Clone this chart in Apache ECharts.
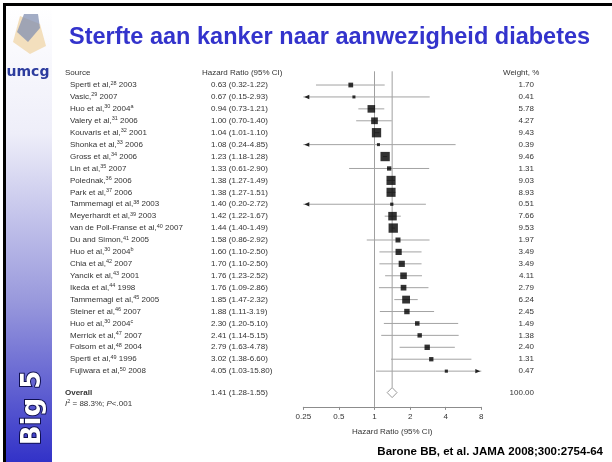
<!DOCTYPE html>
<html><head><meta charset="utf-8">
<script src="https://cdn.jsdelivr.net/npm/echarts@6/dist/echarts.min.js"></script>
<style>html,body{margin:0;padding:0;background:#fff}#c{width:612px;height:462px}</style>
</head><body><div id="c"></div>
<script>
// ---- data ----
const studyNames = ['Sperti et al','Vasic','Huo et al','Valery et al','Kouvaris et al','Shonka et al','Gross et al','Lin et al','Polednak','Park et al','Tammemagi et al','Meyerhardt et al','van de Poll-Franse et al','Du and Simon','Huo et al','Chia et al','Yancik et al','Ikeda et al','Tammemagi et al','Steiner et al','Huo et al','Merrick et al','Folsom et al','Sperti et al','Fujiwara et al'];
const studyRefs = ['28','29','30','31','32','33','34','35','36','37','38','39','40','41','30','42','43','44','45','46','30','47','48','49','50'];
const studyYears = ['2003','2007','2004','2006','2001','2006','2006','2007','2006','2006','2003','2003','2007','2005','2004','2007','2001','1998','2005','2007','2004','2007','2004','1996','2008'];
const studyNotes = ['','','a','','','','','','','','','','','','b','','','','','','c','','','',''];
const hazardRatio = [0.63,0.67,0.94,1.00,1.04,1.08,1.23,1.33,1.38,1.38,1.40,1.42,1.44,1.58,1.60,1.70,1.76,1.76,1.85,1.88,2.30,2.41,2.79,3.02,4.05];
const ciLow  = [0.32,0.15,0.73,0.70,1.01,0.24,1.18,0.61,1.27,1.27,0.20,1.22,1.40,0.86,1.10,1.10,1.23,1.09,1.47,1.11,1.20,1.14,1.63,1.38,1.03];
const ciHigh = [1.22,2.93,1.21,1.40,1.10,4.85,1.28,2.90,1.49,1.51,2.72,1.67,1.49,2.92,2.50,2.50,2.52,2.86,2.32,3.19,5.10,5.15,4.78,6.60,15.80];
const weights = [1.70,0.41,5.78,4.27,9.43,0.39,9.46,1.31,9.03,8.93,0.51,7.66,9.53,1.97,3.49,3.49,4.11,2.79,6.24,2.45,1.49,1.38,2.40,1.31,0.47];
const overallHR = 1.41, overallLow = 1.28, overallHigh = 1.55, overallWeight = 100.00;
const heterogeneityI2 = '88.3%', heterogeneityP = '<.001';
const xTickValues = [0.25, 0.5, 1, 2, 4, 8];
const nullValue = 1;

// ---- layout helpers ----
const xMin = xTickValues[0], xMax = xTickValues[xTickValues.length - 1];
const HEADER_ROW = -1, OVERALL_ROW = 25.8, HET_ROW = 26.75, AXIS_ROW = 27;
const FONT = '"Liberation Sans", Arial, Helvetica, sans-serif';
const TXT = '#333';
const f2 = v => v.toFixed(2);

const chart = echarts.init(document.getElementById('c'), null, {renderer: 'canvas'});

function textEl(x, y, text, opt) {
  opt = opt || {};
  return {
    type: 'text', x: x, y: y, silent: true,
    style: Object.assign({
      text: text, fill: TXT, fontSize: 8, fontFamily: FONT,
      align: opt.align || 'left', verticalAlign: 'middle',
      rich: {
        sup: {fontSize: 5.5, fontFamily: FONT, fill: TXT, verticalAlign: 'top', lineHeight: 10},
        it: {fontSize: 8, fontStyle: 'italic', fontFamily: FONT, fill: TXT, lineHeight: 10},
        b: {fontSize: 8, fontWeight: 'bold', fontFamily: FONT, fill: TXT, lineHeight: 10}
      }
    }, opt.style || {})
  };
}

const rowsData = hazardRatio.map((v, i) => [1, i]);

const option = {
  animation: false,
  backgroundColor: '#fff',
  title: {
    text: 'Sterfte aan kanker naar aanwezigheid diabetes',
    left: 64, top: 21,
    textStyle: {fontSize: 23.5, fontWeight: 'bold', color: '#3333cc', fontFamily: FONT}
  },
  grid: {left: 303.3, right: 130.7, top: 73.1, bottom: 55.1, containLabel: false},
  xAxis: {
    type: 'log', logBase: 2, min: xMin, max: xMax,
    axisLine: {show: true, onZero: false, lineStyle: {color: '#8c8c8c', width: 1}},
    axisTick: {show: true, inside: false, length: 3, lineStyle: {color: '#8c8c8c'}},
    axisLabel: {color: TXT, fontSize: 8, fontFamily: FONT, margin: 6,
      formatter: v => String(+(+v).toPrecision(3))},
    splitLine: {show: false},
    name: 'Hazard Ratio (95% CI)', nameLocation: 'middle', nameGap: 21,
    nameTextStyle: {color: TXT, fontSize: 8, fontFamily: FONT}
  },
  yAxis: {type: 'value', inverse: true, min: HEADER_ROW, max: AXIS_ROW, show: false},
  series: [
    { // reference lines
      type: 'custom', clip: false, z: 1,
      data: [[nullValue, -1.15, AXIS_ROW], [overallHR, -1.15, OVERALL_ROW]],
      encode: {x: 0, y: [1, 2]},
      renderItem(params, api) {
        const p1 = api.coord([api.value(0), api.value(1)]);
        let p2 = api.coord([api.value(0), api.value(2)]);
        const y2 = params.dataIndex === 1 ? p2[1] - 5 : p2[1];
        return {type: 'line', shape: {x1: p1[0], y1: p1[1], x2: p1[0], y2: y2},
          style: {stroke: '#a0a0a0', lineWidth: 1}};
      }
    },
    { // CI lines
      type: 'custom', clip: false, z: 2,
      data: hazardRatio.map((v, i) => [ciLow[i], i, ciHigh[i]]),
      encode: {x: [0, 2], y: 1},
      renderItem(params, api) {
        const l = api.value(0), i = api.value(1), h = api.value(2);
        const p1 = api.coord([Math.max(l, xMin), i]);
        const p2 = api.coord([Math.min(h, xMax), i]);
        const ch = [{type: 'line', shape: {x1: p1[0], y1: p1[1], x2: p2[0], y2: p2[1]},
          style: {stroke: '#a3a3a3', lineWidth: 1}}];
        if (l < xMin) ch.push({type: 'polygon', shape: {points: [[p1[0] + 1, p1[1]], [p1[0] + 6, p1[1] - 2.2], [p1[0] + 6, p1[1] + 2.2]]}, style: {fill: '#222'}});
        if (h > xMax) ch.push({type: 'polygon', shape: {points: [[p2[0] - 1, p2[1]], [p2[0] - 6, p2[1] - 2.2], [p2[0] - 6, p2[1] + 2.2]]}, style: {fill: '#222'}});
        return {type: 'group', children: ch};
      }
    },
    { // point estimates
      type: 'scatter', z: 3,
      data: hazardRatio.map((v, i) => [v, i, weights[i]]),
      symbol: 'rect',
      symbolSize: val => 1.4 + 2.57 * Math.sqrt(val[2]),
      itemStyle: {color: '#000'}
    },
    { // overall diamond
      type: 'custom', clip: false, z: 3,
      data: [[overallLow, OVERALL_ROW, overallHR, overallHigh]],
      encode: {x: [0, 2, 3], y: 1},
      renderItem(params, api) {
        const y = api.value(1);
        const a = api.coord([api.value(0), y]), c = api.coord([api.value(2), y]), b = api.coord([api.value(3), y]);
        return {type: 'polygon', shape: {points: [[a[0], a[1]], [c[0], c[1] - 5], [b[0], b[1]], [c[0], c[1] + 5]]},
          style: {fill: '#fff', stroke: '#9a9a9a', lineWidth: 1}};
      }
    },
    { // text table
      type: 'custom', clip: false, z: 4,
      data: rowsData, encode: {x: 0, y: 1},
      renderItem(params, api) {
        const i = api.value(1);
        const y = api.coord([1, i])[1];
        const ch = [];
        const note = studyNotes[i] ? '{sup|' + studyNotes[i] + '}' : '';
        ch.push(textEl(70, y, studyNames[i] + ',{sup|' + studyRefs[i] + '} ' + studyYears[i] + note));
        ch.push(textEl(211, y, f2(hazardRatio[i]) + ' (' + f2(ciLow[i]) + '-' + f2(ciHigh[i]) + ')'));
        ch.push(textEl(534, y, f2(weights[i]), {align: 'right'}));
        if (i === 0) {
          const yh = api.coord([1, HEADER_ROW])[1];
          const yo = api.coord([1, OVERALL_ROW])[1];
          const yt = api.coord([1, HET_ROW])[1];
          ch.push(textEl(65, yh, 'Source'));
          ch.push(textEl(202, yh, 'Hazard Ratio (95% CI)'));
          ch.push(textEl(503, yh, 'Weight, %'));
          ch.push(textEl(65, yo, '{b|Overall}'));
          ch.push(textEl(211, yo, f2(overallHR) + ' (' + f2(overallLow) + '-' + f2(overallHigh) + ')'));
          ch.push(textEl(534, yo, f2(overallWeight), {align: 'right'}));
          ch.push(textEl(65, yt, '{it|I}{sup|2} = ' + heterogeneityI2 + '; {it|P}' + heterogeneityP));
        }
        return {type: 'group', children: ch};
      }
    }
  ],
  graphic: [
    {type: 'rect', shape: {x: 6, y: 6, width: 46, height: 456}, silent: true, z: -10,
      style: {fill: new echarts.graphic.LinearGradient(0, 0, 0, 1, [
        {offset: 0, color: '#ffffff'}, {offset: 0.28, color: '#eeeef9'},
        {offset: 0.65, color: '#9898dc'}, {offset: 1, color: '#3232c8'}])}},
    {type: 'rect', shape: {x: 3, y: 3, width: 609, height: 3}, style: {fill: '#000'}, silent: true},
    {type: 'rect', shape: {x: 3, y: 3, width: 3, height: 459}, style: {fill: '#000'}, silent: true},
    // logo approximation
    {type: 'polygon', shape: {points: [[13, 42], [20, 16], [40, 24], [46, 46], [30, 54]]}, style: {fill: '#f3dfbd'}, silent: true},
    {type: 'polygon', shape: {points: [[17, 32], [24, 14], [38, 14], [40, 28], [28, 42]]}, style: {fill: '#8390b2', opacity: 0.75}, silent: true},
    {type: 'text', x: 28, y: 72, silent: true,
      style: {text: 'umcg', fill: '#2d3c9e', fontSize: 14, fontWeight: 'bold', fontFamily: '"DejaVu Sans", Verdana, sans-serif', align: 'center', verticalAlign: 'middle'}},
    {type: 'text', x: 33, y: 408, rotation: Math.PI / 2, silent: true,
      style: {text: 'Big 5', fill: '#fff', stroke: '#101050', lineWidth: 2, fontSize: 26, fontWeight: 'bold', fontFamily: '"DejaVu Sans", Verdana, sans-serif', align: 'center', verticalAlign: 'middle'}},
    {type: 'text', x: 603, y: 452, silent: true,
      style: {text: 'Barone BB, et al. JAMA 2008;300:2754-64', fill: '#000', fontSize: 11.5, fontWeight: 'bold', fontFamily: FONT, align: 'right', verticalAlign: 'middle'}}
  ]
};
chart.setOption(option);
</script></body></html>
